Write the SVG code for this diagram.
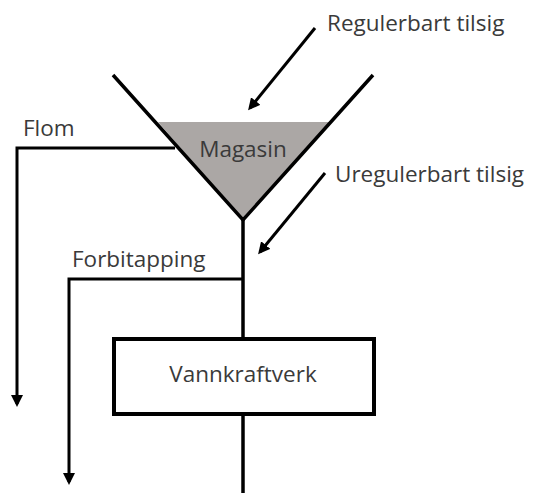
<svg xmlns="http://www.w3.org/2000/svg" width="533" height="493" viewBox="0 0 533 493">
<style>
.ln{fill:none;stroke:#000;stroke-width:3.5}
.ar{fill:none;stroke:#000;stroke-width:3;marker-end:url(#ah)}
.t{font-family:"Open Sans","Noto Sans",sans-serif;font-size:22.5px;fill:#3a3a3a}
</style>
<defs>
<marker id="ah" markerWidth="4" markerHeight="4" refX="3" refY="2" orient="auto" markerUnits="strokeWidth">
<path d="M0,0 L4,2 L0,4 Z" fill="#000"/>
</marker>
</defs>
<g id="magasin">
<polygon points="158,122 330,122 243,220" fill="#aba7a5"/>
<polyline class="ln" points="113,75 243,220 373,75"/>
<text class="t" x="243" y="157" text-anchor="middle">Magasin</text>
</g>
<g id="vannkraftverk">
<rect x="114" y="339" width="260" height="75" fill="#fff" stroke="#000" stroke-width="4"/>
<text class="t" x="243" y="382" text-anchor="middle">Vannkraftverk</text>
</g>
<g id="labels">
<text class="t" x="327" y="31">Regulerbart tilsig</text>
<text class="t" x="335" y="182">Uregulerbart tilsig</text>
<text class="t" x="23" y="136">Flom</text>
<text class="t" x="72" y="267">Forbitapping</text>
</g>
<g id="connectors">
<line class="ln" x1="243" y1="220" x2="243" y2="339"/>
<line class="ln" x1="243" y1="414" x2="243" y2="493"/>
<polyline class="ar" points="175,148 17,148 17,404"/>
<polyline class="ar" points="243,279 69,279 69,482"/>
<line class="ar" x1="315" y1="28" x2="250" y2="108"/>
<line class="ar" x1="325" y1="173" x2="260" y2="252"/>
</g>
</svg>
